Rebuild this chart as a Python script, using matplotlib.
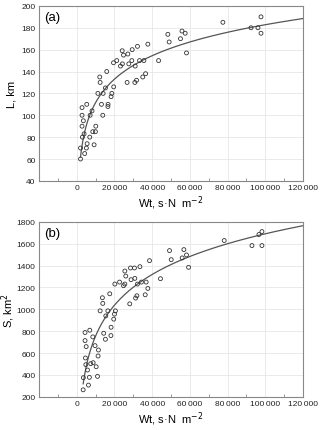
import numpy as np
import matplotlib
matplotlib.use('Agg')
import matplotlib.pyplot as plt
from matplotlib.ticker import FuncFormatter, MultipleLocator

plt.rcParams['font.family'] = ['Liberation Sans', 'DejaVu Sans']

# Panel (a): Wt vs L
wt_a = [2000, 2000, 2800, 2800, 2800, 3500, 3000, 3900, 4200, 5100, 5500, 5300,
        6900, 7100, 8100, 8500, 9900, 10100, 9200, 11200, 12200, 12400, 13100,
        13800, 14000, 15200, 15900, 16600, 16500, 18200, 18600, 19500, 19600,
        21200, 23200, 24100, 24200, 24800, 26700, 27100, 27600, 29200, 29400,
        30800, 31000, 31700, 32200, 33300, 35000, 35600, 36500, 37700, 43400,
        48300, 49000, 55000, 55800, 57500, 58200, 77500, 92400, 96100, 97700,
        97700]
l_km = [60, 70, 107, 100, 90, 95, 80, 83, 65, 70, 74, 110,
        80, 100, 104, 85, 85, 90, 73, 120, 135, 130, 110,
        100, 120, 125, 140, 110, 108, 117, 120, 148, 126,
        150, 145, 159, 147, 155, 130, 156, 147, 150, 160,
        130, 145, 132, 163, 150, 135, 150, 138, 165, 150,
        174, 167, 170, 177, 175, 157, 185, 180, 180, 190,
        175]

# Panel (b): Wt vs S
wt_b = [3400, 3500, 4400, 4400, 5000, 4600, 4800, 5700, 6200, 6700, 6900, 7400,
        8500, 8700, 9700, 10300, 11000, 11500, 11300, 12400, 13600, 13800,
        14300, 15200, 15400, 16500, 17500, 18100, 18200, 19600, 20000, 20500,
        20200, 22700, 24800, 25500, 26000, 25500, 28100, 28500, 28800, 30600,
        30800, 31200, 31900, 32200, 33500, 34300, 36300, 36800, 37700, 38600,
        44400, 49200, 50100, 55900, 56800, 58200, 59300, 78200, 92900, 96600,
        98200, 98200]
s_km2 = [264, 375, 788, 714, 659, 555, 494, 445, 307, 378, 809, 503,
         748, 512, 668, 475, 387, 628, 573, 986, 1106, 1054,
         781, 726, 940, 986, 1142, 760, 836, 910, 956, 986,
         1231, 1249, 1216, 1350, 1304, 1231, 1050, 1378, 1271, 1378,
         1283, 1103, 1124, 1231, 1390, 1249, 1133, 1249, 1191, 1445,
         1280, 1537, 1454, 1470, 1546, 1497, 1384, 1629, 1583, 1684,
         1711, 1583]

x_ticks = [0, 20000, 40000, 60000, 80000, 100000, 120000]

fig = plt.figure(figsize=(3.2, 4.31), dpi=100)
ax_a = fig.add_axes([0.122, 0.578, 0.825, 0.406])
ax_b = fig.add_axes([0.122, 0.077, 0.825, 0.406])


def fmt(v, pos):
    return '{:,}'.format(int(v)).replace(',', '\u2009')


def draw(ax, x, y, ylim, ystep, ylabel, tag):
    x = np.array(x, dtype=float)
    y = np.array(y, dtype=float)
    # logarithmic fit through the points
    b, a = np.polyfit(np.log(x), y, 1)
    xs = np.linspace(x.min(), 120000, 300)
    ax.plot(xs, a + b * np.log(xs), color='#555555', lw=0.9, zorder=3)
    ax.scatter(x, y, s=8, facecolors='none', edgecolors='#333333', linewidths=0.6, zorder=4)
    ax.set_xlim(-20000, 120000)
    ax.set_ylim(*ylim)
    ax.set_xticks(x_ticks)
    ax.xaxis.set_major_formatter(FuncFormatter(fmt))
    ax.yaxis.set_major_locator(MultipleLocator(ystep))
    ax.xaxis.set_minor_locator(MultipleLocator(10000))
    ax.grid(True, color='#e6e6e6', lw=0.6, zorder=0)
    ax.tick_params(which='both', direction='in', labelsize=6, colors='#222222', length=0, pad=2.5)
    ax.tick_params(axis='x', which='minor', length=2, color='#888888')
    for sp in ax.spines.values():
        sp.set_color('#888888')
        sp.set_linewidth(0.8)
    ax.set_ylabel(ylabel, fontsize=8)
    ax.yaxis.set_label_coords(-0.085, 0.5)
    ax.set_xlabel('Wt, s\u00b7N  m$^{-2}$', fontsize=8, labelpad=1.5)
    ax.text(0.02, 0.97, tag, transform=ax.transAxes, fontsize=9.5, va='top', ha='left')


draw(ax_a, wt_a, l_km, (40, 200), 20, 'L, km', '(a)')
draw(ax_b, wt_b, s_km2, (200, 1800), 200, 'S, km$^2$', '(b)')

fig.savefig('out.png', dpi=100)
